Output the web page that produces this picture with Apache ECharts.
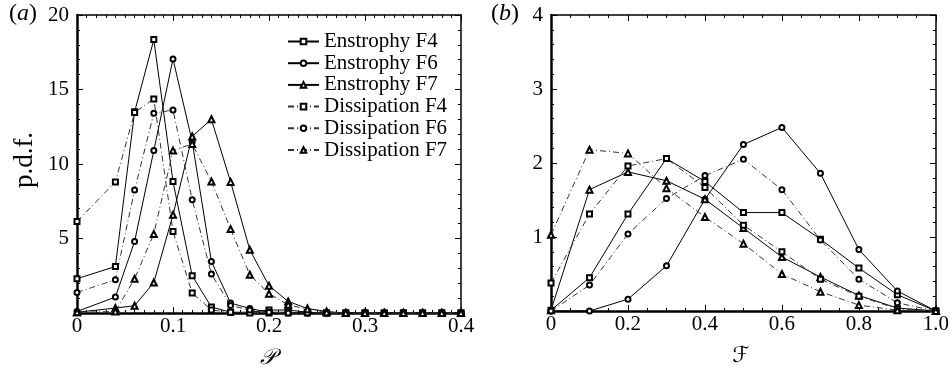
<!DOCTYPE html>
<html>
<head>
<meta charset="utf-8">
<script src="https://cdn.jsdelivr.net/npm/echarts@6/dist/echarts.min.js"></script>
<style>html,body{margin:0;padding:0;background:#fff}#c{width:952px;height:371px}</style>
</head>
<body>
<div id="c"></div>
<script>
// Panel (a): x values and p.d.f. of P
var xA = [0, 0.04, 0.06, 0.08, 0.10, 0.12, 0.14, 0.16, 0.18, 0.20, 0.22, 0.24, 0.26, 0.28, 0.30, 0.32, 0.34, 0.36, 0.38, 0.40];
var aEnsF4 = [2.3, 3.12, 13.5, 18.35, 8.82, 2.5, 0.4, 0.05, 0.05, 0.2, 0.2, 0.05, 0, 0, 0, 0, 0, 0, 0, 0];
var aEnsF6 = [0.1, 1.07, 4.8, 10.9, 17.05, 11.5, 3.46, 0.67, 0.3, 0.05, 0.05, 0, 0, 0, 0, 0, 0, 0, 0, 0];
var aEnsF7 = [0.05, 0.33, 0.49, 2.05, 6.59, 11.85, 13.0, 8.8, 4.24, 1.83, 0.78, 0.3, 0.1, 0, 0, 0, 0, 0, 0, 0];
var aDisF4 = [6.14, 8.8, 13.45, 14.37, 5.47, 1.34, 0.2, 0.05, 0, 0, 0, 0, 0, 0, 0, 0, 0, 0, 0, 0];
var aDisF6 = [1.38, 2.23, 8.26, 13.4, 13.63, 7.6, 2.61, 0.5, 0.2, 0.05, 0, 0, 0, 0, 0, 0, 0, 0, 0, 0];
var aDisF7 = [0.05, 0.1, 2.3, 5.31, 10.9, 11.35, 8.83, 5.63, 2.57, 1.3, 0.55, 0.25, 0.05, 0, 0, 0, 0, 0, 0, 0];
// Panel (b): x values and p.d.f. of F
var xB = [0, 0.1, 0.2, 0.3, 0.4, 0.5, 0.6, 0.7, 0.8, 0.9, 1.0];
var bEnsF4 = [0.01, 0.45, 1.31, 2.06, 1.75, 1.33, 1.33, 0.97, 0.58, 0.22, 0];
var bEnsF6 = [0, 0, 0.16, 0.61, 1.51, 2.25, 2.48, 1.86, 0.83, 0.27, 0];
var bEnsF7 = [0.01, 1.64, 1.88, 1.76, 1.51, 1.12, 0.73, 0.46, 0.21, 0.04, 0];
var bDisF4 = [0.38, 1.31, 1.96, 2.06, 1.67, 1.16, 0.8, 0.43, 0.2, 0.03, 0];
var bDisF6 = [0, 0.35, 1.04, 1.52, 1.83, 2.05, 1.64, 0.96, 0.43, 0.11, 0];
var bDisF7 = [1.03, 2.18, 2.13, 1.66, 1.27, 0.91, 0.5, 0.26, 0.08, 0.01, 0];
var seriesNames = ['Enstrophy F4', 'Enstrophy F6', 'Enstrophy F7', 'Dissipation F4', 'Dissipation F6', 'Dissipation F7'];

var FONT = "'Liberation Serif', 'DejaVu Serif', serif";
var symbols = ['emptyRect', 'emptyCircle', 'emptyTriangle', 'emptyRect', 'emptyCircle', 'emptyTriangle'];
var symSizes = [5, 5, 6, 5, 5, 6];

function zip(xs, ys) { return xs.map(function (x, i) { return [x, ys[i]]; }); }
function fmtX(v) { return v === 0 ? '0' : v.toFixed(1); }
function fmtY(v) { return v === 0 ? '' : String(v); }

function mkX(grid, max, interval, minorSplit, top) {
  return {
    type: 'value', gridIndex: grid, min: 0, max: max, interval: interval,
    position: top ? 'top' : 'bottom',
    axisLine: { show: true, onZero: false, lineStyle: { color: '#000', width: top ? 1.5 : 2.5 } },
    axisTick: { show: true, inside: true, length: 6, lineStyle: { color: '#000', width: 1 } },
    minorTick: { show: true, splitNumber: minorSplit, length: 3, lineStyle: { color: '#000', width: 1 } },
    axisLabel: { show: !top, formatter: fmtX, color: '#000', fontFamily: FONT, fontSize: 21, margin: 3 },
    splitLine: { show: false }
  };
}
function mkY(grid, max, interval, minorSplit, right) {
  return {
    type: 'value', gridIndex: grid, min: 0, max: max, interval: interval,
    position: right ? 'right' : 'left',
    axisLine: { show: true, onZero: false, lineStyle: { color: '#000', width: right ? 1.5 : 2.5 } },
    axisTick: { show: true, inside: true, length: 6, lineStyle: { color: '#000', width: 1 } },
    minorTick: { show: true, splitNumber: minorSplit, length: 3, lineStyle: { color: '#000', width: 1 } },
    axisLabel: { show: !right, formatter: fmtY, color: '#000', fontFamily: FONT, fontSize: 21, margin: 8 },
    splitLine: { show: false }
  };
}

var dataA = [aEnsF4, aEnsF6, aEnsF7, aDisF4, aDisF6, aDisF7];
var dataB = [bEnsF4, bEnsF6, bEnsF7, bDisF4, bDisF6, bDisF7];
var series = [];
function addSeries(data, xs, axisIdx) {
  data.forEach(function (d, i) {
    var dashed = i >= 3;
    series.push({
      name: seriesNames[i], type: 'line', xAxisIndex: axisIdx, yAxisIndex: axisIdx,
      data: zip(xs, d), symbol: symbols[i], symbolSize: symSizes[i],
      showAllSymbol: true, clip: false, z: 5,
      itemStyle: { color: '#000', borderColor: '#000', borderWidth: 1 },
      lineStyle: { color: dashed ? '#333' : '#000', width: 1, type: dashed ? [6, 3, 1, 3] : 'solid' },
      emphasis: { disabled: true }
    });
  });
}
addSeries(dataA, xA, 0);
addSeries(dataB, xB, 1);

var chart = echarts.init(document.getElementById('c'), null, { renderer: 'canvas' });
chart.setOption({
  animation: false,
  backgroundColor: '#fff',
  grid: [
    { left: 77, top: 15, width: 384, height: 298 },
    { left: 551, top: 15, width: 386, height: 296 }
  ],
  xAxis: [mkX(0, 0.4, 0.1, 10, false), mkX(1, 1.0, 0.2, 4, false), mkX(0, 0.4, 0.1, 10, true), mkX(1, 1.0, 0.2, 4, true)],
  yAxis: [mkY(0, 20, 5, 5, false), mkY(1, 4, 1, 5, false), mkY(0, 20, 5, 5, true), mkY(1, 4, 1, 5, true)],
  legend: {
    data: seriesNames, orient: 'vertical', left: 287, top: 31,
    itemWidth: 31, itemHeight: 7, itemGap: 0.7,
    textStyle: { color: '#000', fontFamily: FONT, fontSize: 21, lineHeight: 21, padding: [0, 0, 0, 0] },
    selectedMode: false, padding: 0
  },
  graphic: [
    { type: 'text', left: 9, top: 2, style: { rich: { n: { fontFamily: FONT, fontSize: 24, fill: '#000' }, i: { fontFamily: FONT, fontStyle: 'italic', fontSize: 24, fill: '#000' } }, text: '{n|(}{i|a}{n|)}' } },
    { type: 'text', left: 491, top: 2, style: { rich: { n: { fontFamily: FONT, fontSize: 24, fill: '#000' }, i: { fontFamily: FONT, fontStyle: 'italic', fontSize: 24, fill: '#000' } }, text: '{n|(}{i|b}{n|)}' } },
    { type: 'text', x: 25, y: 160, rotation: Math.PI / 2, style: { text: 'p.d.f.', fontFamily: FONT, fontSize: 27, fill: '#000', align: 'center', verticalAlign: 'middle' } },
    { type: 'text', x: 268, y: 358, style: { text: '\uD835\uDCAB', fontFamily: "'DejaVu Serif', 'DejaVu Sans', serif", fontStyle: 'italic', fontSize: 22, fill: '#000', align: 'center', verticalAlign: 'middle' } },
    { type: 'text', x: 741, y: 356, style: { text: '\u2131', fontFamily: "'DejaVu Serif', 'DejaVu Sans', serif", fontSize: 22, fill: '#000', align: 'center', verticalAlign: 'middle' } }
  ],
  series: series
});
</script>
</body>
</html>
